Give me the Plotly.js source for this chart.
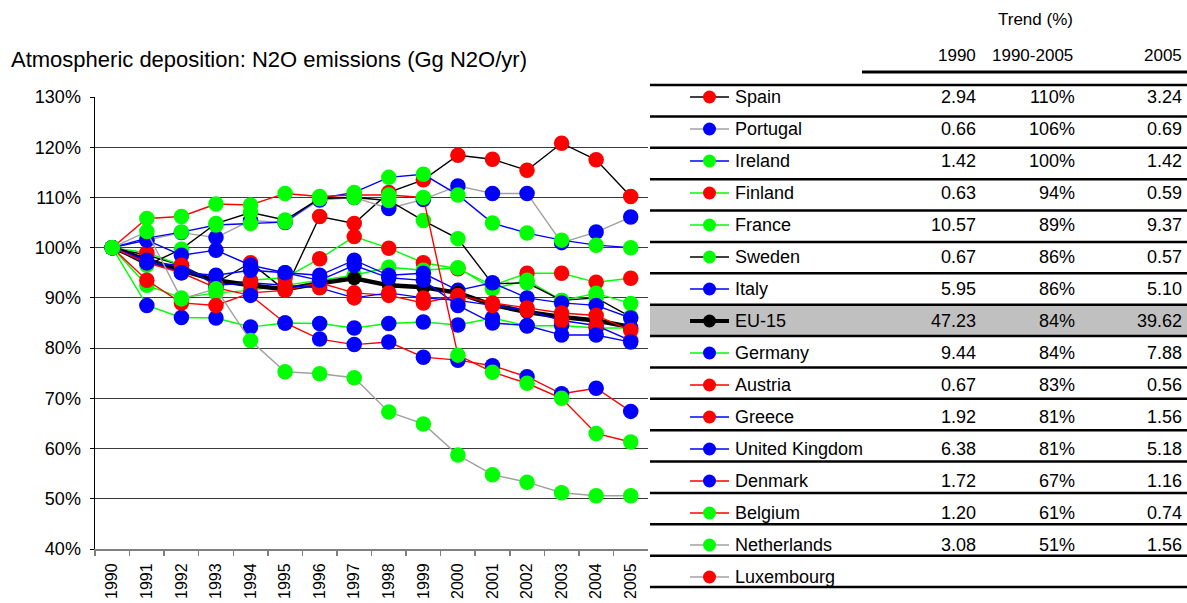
<!DOCTYPE html>
<html>
<head>
<meta charset="utf-8">
<script src="https://cdn.plot.ly/plotly-3.0.1.min.js"></script>
<style>html,body{margin:0;padding:0;background:#fff;}#chart{width:1187px;height:603px;}</style>
</head>
<body>
<div id="chart"></div>
<script>
// ---------------- DATA ----------------
const years = ['1990','1991','1992','1993','1994','1995','1996','1997','1998','1999','2000','2001','2002','2003','2004','2005'];
const countries = ['Spain','Portugal','Ireland','Finland','France','Sweden','Italy','EU-15','Germany','Austria','Greece','United Kingdom','Denmark','Belgium','Netherlands','Luxembourg'];

const spain       = [100, 98.5, 96.5, 93.0, 97.0, 91.5, 106.2, 104.8, 111.0, 113.5, 118.4, 117.6, 115.4, 120.8, 117.5, 110.2];
const portugal    = [100, 101.5, 103.0, 102.0, 105.4, 105.0, 109.5, 110.0, 107.8, 109.6, 112.3, 110.8, 110.8, 101.0, 103.1, 106.1];
const ireland     = [100, 101.9, 103.1, 104.5, 104.8, 105.1, 109.8, 111.0, 114.0, 114.6, 110.5, 104.9, 102.9, 101.5, 100.5, 100.0];
const finland     = [100, 99.0, 96.5, 92.5, 93.5, 94.0, 97.8, 102.2, 99.9, 97.0, 95.8, 92.5, 94.9, 94.9, 93.1, 93.9];
const france      = [100, 92.5, 90.0, 91.0, 91.5, 92.5, 93.5, 94.5, 96.1, 95.5, 96.0, 91.8, 93.5, 89.5, 90.9, 88.9];
const sweden      = [100, 96.5, 99.7, 104.8, 107.0, 105.5, 109.8, 110.0, 109.4, 105.4, 101.8, 92.8, 93.0, 89.5, 90.0, 86.2];
const italy       = [100, 101.5, 98.5, 99.5, 96.5, 95.0, 94.5, 97.5, 94.5, 94.9, 91.5, 93.0, 90.0, 89.0, 88.5, 86.0];
const eu15        = [100, 97.5, 95.5, 93.5, 92.5, 91.7, 92.9, 93.9, 92.5, 92.1, 91.0, 88.6, 87.2, 86.2, 85.5, 84.2];
const germany     = [100, 88.5, 86.1, 86.0, 84.2, 85.0, 84.9, 84.0, 84.9, 85.2, 84.6, 86.0, 84.4, 84.5, 84.0, 84.0];
const austria     = [100, 93.5, 89.0, 88.5, 91.0, 91.5, 93.0, 91.0, 90.5, 89.0, 90.5, 89.0, 88.0, 87.0, 86.5, 83.5];
const greece      = [100, 97.0, 96.5, 92.5, 93.0, 92.5, 92.0, 90.0, 91.0, 90.0, 89.5, 88.5, 87.5, 85.5, 84.5, 81.5];
const uk          = [100, 97.5, 95.0, 94.5, 95.5, 95.0, 93.5, 96.5, 94.0, 93.5, 88.5, 85.0, 84.5, 82.6, 82.6, 81.2];
const denmark     = [100, 97.0, 95.0, 92.0, 90.5, 85.0, 81.8, 80.7, 81.2, 78.2, 77.6, 76.5, 74.3, 70.9, 72.0, 67.4];
const belgium     = [100, 105.8, 106.2, 108.7, 108.5, 110.8, 110.2, 110.5, 110.5, 110.0, 78.6, 75.2, 73.0, 70.0, 63.0, 61.3];
const netherlands = [100, 103.2, 89.8, 91.8, 81.5, 75.3, 74.9, 74.1, 67.3, 64.9, 58.7, 54.8, 53.3, 51.2, 50.6, 50.6];
const luxembourg  = [null, null, null, null, null, null, null, null, null, null, null, null, null, null, null, null];

const values1990 = [2.94, 0.66, 1.42, 0.63, 10.57, 0.67, 5.95, 47.23, 9.44, 0.67, 1.92, 6.38, 1.72, 1.20, 3.08, null];
const trendPct   = [110, 106, 100, 94, 89, 86, 86, 84, 84, 83, 81, 81, 67, 61, 51, null];
const values2005 = [3.24, 0.69, 1.42, 0.59, 9.37, 0.57, 5.10, 39.62, 7.88, 0.56, 1.56, 5.18, 1.16, 0.74, 1.56, null];

const seriesList = [spain, portugal, ireland, finland, france, sweden, italy, eu15, germany, austria, greece, uk, denmark, belgium, netherlands, luxembourg];

// ---------------- STYLE ----------------
const RED = '#ff0000', BLUE = '#0000ff', GREEN = '#00ff00', GRAY = '#a0a0a0', BLACK = '#000000';
const lineColors   = [BLACK, GRAY, BLUE, GREEN, GREEN, BLACK, BLUE, BLACK, GREEN, RED, BLUE, BLUE, RED, RED, GRAY, GRAY];
const markerColors = [RED, BLUE, GREEN, RED, GREEN, GREEN, BLUE, BLACK, BLUE, RED, RED, BLUE, BLUE, GREEN, GREEN, RED];
const EU_INDEX = 7;

const W = 1187, H = 603;
const px = x => x / W;
const py = y => 1 - y / H;
const FONT = 'Liberation Sans, Arial, Helvetica, sans-serif';

// table geometry (pixels)
const rowTop0 = 85, rowH = 31.375, nRows = countries.length;
const rowTop = i => rowTop0 + rowH * i;
const textY = i => 97 + 32 * i;   // legend/text rows run on a slightly different pitch

// ---------------- TRACES ----------------
const traces = [];
seriesList.forEach((vals, i) => {
  const isEU = i === EU_INDEX;
  traces.push({
    type: 'scatter', mode: 'lines+markers', name: countries[i],
    x: years, y: vals, xaxis: 'x', yaxis: 'y',
    line: {color: lineColors[i], width: isEU ? 4.5 : 1.4},
    marker: {color: markerColors[i], size: isEU ? 14 : 15.5, line: {width: 0}},
    showlegend: false, hoverinfo: 'x+y+name', cliponaxis: false
  });
});

// legend symbols inside the table (on a pixel-scaled helper axis)
countries.forEach((c, i) => {
  const isEU = i === EU_INDEX;
  const yy = textY(i);
  traces.push({
    type: 'scatter', mode: 'lines', x: [690, 729], y: [yy, yy], xaxis: 'x2', yaxis: 'y2',
    line: {color: lineColors[i], width: isEU ? 4 : 1.4}, showlegend: false, hoverinfo: 'skip'
  });
  traces.push({
    type: 'scatter', mode: 'markers', x: [709.5], y: [yy], xaxis: 'x2', yaxis: 'y2',
    marker: {color: markerColors[i], size: 13, line: {width: 0}}, showlegend: false, hoverinfo: 'skip'
  });
});

// ---------------- SHAPES & ANNOTATIONS ----------------
const shapes = [];
const annotations = [];

// EU-15 highlighted row
shapes.push({type: 'rect', xref: 'paper', yref: 'paper', layer: 'below',
  x0: px(650), x1: px(1187), y0: py(rowTop(EU_INDEX)), y1: py(rowTop(EU_INDEX + 1)),
  fillcolor: '#c0c0c0', line: {width: 0}});
// header rule
shapes.push({type: 'line', xref: 'paper', yref: 'paper', x0: px(862), x1: px(1187), y0: py(72), y1: py(72),
  line: {color: BLACK, width: 3}});
// row rules
for (let i = 0; i <= nRows; i++) {
  shapes.push({type: 'line', xref: 'paper', yref: 'paper', x0: px(650), x1: px(1187), y0: py(rowTop(i)), y1: py(rowTop(i)),
    line: {color: BLACK, width: 2.5}});
}

// title
annotations.push({xref: 'paper', yref: 'paper', x: px(9), y: py(60), xanchor: 'left', yanchor: 'middle',
  text: 'Atmospheric deposition: N2O emissions (Gg N2O/yr)', showarrow: false,
  font: {family: FONT, size: 22, color: '#000'}});
// header
const hdr = (t, xr, y) => annotations.push({xref: 'paper', yref: 'paper', x: px(xr), y: py(y), xanchor: 'right', yanchor: 'middle',
  text: t, showarrow: false, font: {family: FONT, size: 17, color: '#000'}});
hdr('Trend (%)', 1075, 20);
hdr('1990', 978, 55);
hdr('1990-2005', 1075, 55);
hdr('2005', 1184, 55);

// rows
countries.forEach((c, i) => {
  const y = textY(i);
  annotations.push({xref: 'paper', yref: 'paper', x: px(733), y: py(y), xanchor: 'left', yanchor: 'middle',
    text: c, showarrow: false, font: {family: FONT, size: 18, color: '#000'}});
  if (values1990[i] !== null) {
    annotations.push({xref: 'paper', yref: 'paper', x: px(978), y: py(y), xanchor: 'right', yanchor: 'middle',
      text: values1990[i].toFixed(2), showarrow: false, font: {family: FONT, size: 18, color: '#000'}});
  }
  if (trendPct[i] !== null) {
    annotations.push({xref: 'paper', yref: 'paper', x: px(1077), y: py(y), xanchor: 'right', yanchor: 'middle',
      text: trendPct[i] + '%', showarrow: false, font: {family: FONT, size: 18, color: '#000'}});
  }
  if (values2005[i] !== null) {
    annotations.push({xref: 'paper', yref: 'paper', x: px(1184), y: py(y), xanchor: 'right', yanchor: 'middle',
      text: values2005[i].toFixed(2), showarrow: false, font: {family: FONT, size: 18, color: '#000'}});
  }
});

// ---------------- LAYOUT ----------------
const layout = {
  width: W, height: H,
  margin: {l: 0, r: 0, t: 0, b: 0, autoexpand: false},
  paper_bgcolor: '#ffffff', plot_bgcolor: 'rgba(0,0,0,0)',
  font: {family: FONT, color: '#000'},
  showlegend: false,
  xaxis: {
    type: 'category', domain: [px(95), px(648)], range: [-0.5, 15.5],
    tickson: 'boundaries', ticks: 'outside', ticklen: 5, tickcolor: '#808080', tickwidth: 1.5,
    tickangle: -90, tickfont: {family: FONT, size: 16, color: '#000'}, ticklabelstandoff: 6,
    showline: true, linecolor: '#808080', linewidth: 2, showgrid: false, zeroline: false, fixedrange: true
  },
  yaxis: {
    domain: [py(549), py(97)], range: [40, 130], dtick: 10, tick0: 40, ticksuffix: '%',
    ticks: 'outside', ticklen: 4, tickcolor: '#000', ticklabelstandoff: 5,
    tickfont: {family: FONT, size: 18, color: '#000'},
    showline: true, linecolor: '#000', linewidth: 1.5,
    showgrid: true, gridcolor: '#3a3a3a', gridwidth: 1.2, zeroline: false, fixedrange: true
  },
  xaxis2: {domain: [px(650), 1], range: [650, 1187], visible: false, fixedrange: true, anchor: 'y2'},
  yaxis2: {domain: [0, 1], range: [603, 0], visible: false, fixedrange: true, anchor: 'x2'},
  shapes: shapes,
  annotations: annotations
};

Plotly.newPlot('chart', traces, layout, {displayModeBar: false, staticPlot: true});
</script>
</body>
</html>
